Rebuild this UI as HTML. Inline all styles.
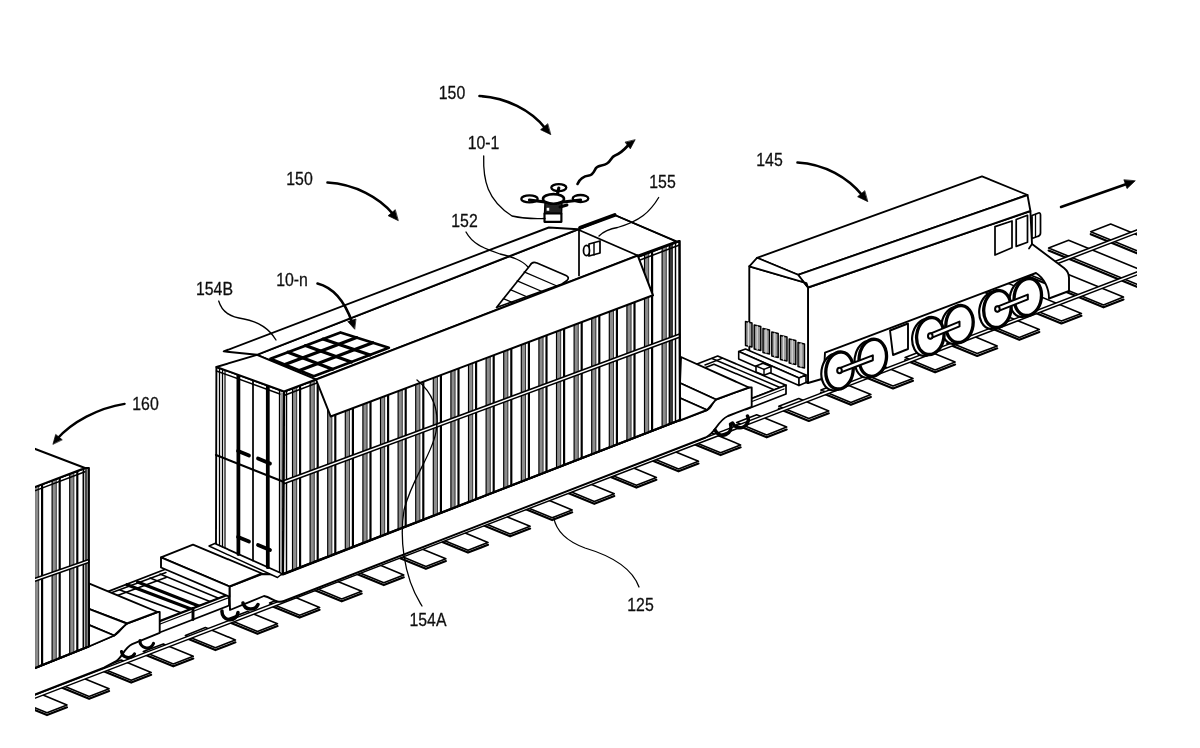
<!DOCTYPE html>
<html><head><meta charset="utf-8"><title>Figure</title>
<style>html,body{margin:0;padding:0;background:#fff}svg{display:block}</style></head>
<body>
<svg width="1200" height="748" viewBox="0 0 1200 748" stroke-linejoin="round" stroke-linecap="round">
<rect width="1200" height="748" fill="#fff"/>
<defs><clipPath id="frame"><rect x="35" y="0" width="1102" height="748"/></clipPath>
<filter id="soft" x="0" y="0" width="1200" height="748" filterUnits="userSpaceOnUse"><feGaussianBlur stdDeviation="0.45"/></filter></defs>
<g clip-path="url(#frame)" filter="url(#soft)">
<g id="track">
<polygon points="-25.1,716.7 4.9,729.0 24.9,721.2 -5.1,708.9" fill="#fff" stroke="#000" stroke-width="1.59" />
<polyline points="-25.1,719.1 4.9,731.4 24.9,723.6" fill="none" stroke="#000" stroke-width="2.17" />
<polygon points="17.0,700.4 47.0,712.7 67.0,704.9 37.0,692.6" fill="#fff" stroke="#000" stroke-width="1.59" />
<polyline points="17.0,702.8 47.0,715.1 67.0,707.3" fill="none" stroke="#000" stroke-width="2.17" />
<polygon points="59.1,684.1 89.1,696.4 109.1,688.7 79.1,676.4" fill="#fff" stroke="#000" stroke-width="1.59" />
<polyline points="59.1,686.5 89.1,698.8 109.1,691.1" fill="none" stroke="#000" stroke-width="2.17" />
<polygon points="101.2,667.9 131.2,680.2 151.2,672.4 121.2,660.1" fill="#fff" stroke="#000" stroke-width="1.59" />
<polyline points="101.2,670.3 131.2,682.6 151.2,674.8" fill="none" stroke="#000" stroke-width="2.17" />
<polygon points="143.3,651.6 173.3,663.9 193.3,656.2 163.3,643.9" fill="#fff" stroke="#000" stroke-width="1.59" />
<polyline points="143.3,654.0 173.3,666.3 193.3,658.6" fill="none" stroke="#000" stroke-width="2.17" />
<polygon points="185.4,635.4 215.4,647.7 235.4,639.9 205.4,627.6" fill="#fff" stroke="#000" stroke-width="1.59" />
<polyline points="185.4,637.8 215.4,650.1 235.4,642.3" fill="none" stroke="#000" stroke-width="2.17" />
<polygon points="227.5,619.1 257.5,631.4 277.5,623.7 247.5,611.4" fill="#fff" stroke="#000" stroke-width="1.59" />
<polyline points="227.5,621.5 257.5,633.8 277.5,626.1" fill="none" stroke="#000" stroke-width="2.17" />
<polygon points="269.6,602.9 299.6,615.2 319.6,607.4 289.6,595.1" fill="#fff" stroke="#000" stroke-width="1.59" />
<polyline points="269.6,605.3 299.6,617.6 319.6,609.8" fill="none" stroke="#000" stroke-width="2.17" />
<polygon points="311.7,586.6 341.7,598.9 361.7,591.2 331.7,578.9" fill="#fff" stroke="#000" stroke-width="1.59" />
<polyline points="311.7,589.0 341.7,601.3 361.7,593.6" fill="none" stroke="#000" stroke-width="2.17" />
<polygon points="353.8,570.4 383.8,582.7 403.8,574.9 373.8,562.6" fill="#fff" stroke="#000" stroke-width="1.59" />
<polyline points="353.8,572.8 383.8,585.1 403.8,577.3" fill="none" stroke="#000" stroke-width="2.17" />
<polygon points="395.9,554.1 425.9,566.4 445.9,558.7 415.9,546.4" fill="#fff" stroke="#000" stroke-width="1.59" />
<polyline points="395.9,556.5 425.9,568.8 445.9,561.1" fill="none" stroke="#000" stroke-width="2.17" />
<polygon points="438.0,537.9 468.0,550.2 488.0,542.4 458.0,530.1" fill="#fff" stroke="#000" stroke-width="1.59" />
<polyline points="438.0,540.3 468.0,552.6 488.0,544.8" fill="none" stroke="#000" stroke-width="2.17" />
<polygon points="480.1,521.6 510.1,533.9 530.1,526.2 500.1,513.9" fill="#fff" stroke="#000" stroke-width="1.59" />
<polyline points="480.1,524.0 510.1,536.3 530.1,528.6" fill="none" stroke="#000" stroke-width="2.17" />
<polygon points="522.2,505.4 552.2,517.7 572.2,509.9 542.2,497.6" fill="#fff" stroke="#000" stroke-width="1.59" />
<polyline points="522.2,507.8 552.2,520.1 572.2,512.3" fill="none" stroke="#000" stroke-width="2.17" />
<polygon points="564.3,489.1 594.3,501.4 614.3,493.7 584.3,481.4" fill="#fff" stroke="#000" stroke-width="1.59" />
<polyline points="564.3,491.5 594.3,503.8 614.3,496.1" fill="none" stroke="#000" stroke-width="2.17" />
<polygon points="606.4,472.9 636.4,485.2 656.4,477.4 626.4,465.1" fill="#fff" stroke="#000" stroke-width="1.59" />
<polyline points="606.4,475.3 636.4,487.6 656.4,479.8" fill="none" stroke="#000" stroke-width="2.17" />
<polygon points="648.5,456.6 678.5,468.9 698.5,461.2 668.5,448.9" fill="#fff" stroke="#000" stroke-width="1.59" />
<polyline points="648.5,459.0 678.5,471.3 698.5,463.6" fill="none" stroke="#000" stroke-width="2.17" />
<polygon points="690.6,440.4 720.6,452.7 740.6,444.9 710.6,432.6" fill="#fff" stroke="#000" stroke-width="1.59" />
<polyline points="690.6,442.8 720.6,455.1 740.6,447.3" fill="none" stroke="#000" stroke-width="2.17" />
<polygon points="736.7,422.6 766.7,434.9 786.7,427.1 756.7,414.8" fill="#fff" stroke="#000" stroke-width="1.59" />
<polyline points="736.7,425.0 766.7,437.3 786.7,429.5" fill="none" stroke="#000" stroke-width="2.17" />
<polygon points="778.8,406.3 808.8,418.6 828.8,410.9 798.8,398.6" fill="#fff" stroke="#000" stroke-width="1.59" />
<polyline points="778.8,408.7 808.8,421.0 828.8,413.3" fill="none" stroke="#000" stroke-width="2.17" />
<polygon points="820.9,390.1 850.9,402.4 870.9,394.6 840.9,382.3" fill="#fff" stroke="#000" stroke-width="1.59" />
<polyline points="820.9,392.5 850.9,404.8 870.9,397.0" fill="none" stroke="#000" stroke-width="2.17" />
<polygon points="863.0,373.8 893.0,386.1 913.0,378.4 883.0,366.1" fill="#fff" stroke="#000" stroke-width="1.59" />
<polyline points="863.0,376.2 893.0,388.5 913.0,380.8" fill="none" stroke="#000" stroke-width="2.17" />
<polygon points="905.1,357.6 935.1,369.9 955.1,362.1 925.1,349.8" fill="#fff" stroke="#000" stroke-width="1.59" />
<polyline points="905.1,360.0 935.1,372.3 955.1,364.5" fill="none" stroke="#000" stroke-width="2.17" />
<polygon points="947.2,341.3 977.2,353.6 997.2,345.9 967.2,333.6" fill="#fff" stroke="#000" stroke-width="1.59" />
<polyline points="947.2,343.7 977.2,356.0 997.2,348.3" fill="none" stroke="#000" stroke-width="2.17" />
<polygon points="989.3,325.1 1019.3,337.4 1039.3,329.6 1009.3,317.3" fill="#fff" stroke="#000" stroke-width="1.59" />
<polyline points="989.3,327.5 1019.3,339.8 1039.3,332.0" fill="none" stroke="#000" stroke-width="2.17" />
<polygon points="963.4,281.0 1061.4,321.1 1081.4,313.4 983.4,273.2" fill="#fff" stroke="#000" stroke-width="1.59" />
<polyline points="963.4,283.4 1061.4,323.5 1081.4,315.8" fill="none" stroke="#000" stroke-width="2.17" />
<polygon points="1005.5,264.7 1103.5,304.9 1123.5,297.1 1025.5,257.0" fill="#fff" stroke="#000" stroke-width="1.59" />
<polyline points="1005.5,267.1 1103.5,307.3 1123.5,299.5" fill="none" stroke="#000" stroke-width="2.17" />
<polygon points="1048.6,248.1 1146.6,288.3 1166.6,280.5 1068.6,240.3" fill="#fff" stroke="#000" stroke-width="1.59" />
<polyline points="1048.6,250.5 1146.6,290.7 1166.6,282.9" fill="none" stroke="#000" stroke-width="2.17" />
<polygon points="1090.7,231.8 1188.7,272.0 1208.7,264.2 1110.7,224.1" fill="#fff" stroke="#000" stroke-width="1.59" />
<polyline points="1090.7,234.2 1188.7,274.4 1208.7,266.6" fill="none" stroke="#000" stroke-width="2.17" />
<polygon points="1052.0,262.5 1140.0,228.7 1140.0,231.9 1052.0,265.7" fill="#fff" stroke="#000" stroke-width="1.45" />
<polygon points="30.0,696.9 1140.0,270.7 1140.0,273.9 30.0,700.1" fill="#fff" stroke="#000" stroke-width="1.45" />
</g>
<g id="coupL">
<polygon points="100.0,594.6 166.0,569.0 229.0,594.0 150.0,624.6" fill="#fff" stroke="#000" stroke-width="1.74" />
<polyline points="104.0,595.5 166.0,572.5" fill="none" stroke="#000" stroke-width="1.45" />
<polyline points="112.0,597.5 166.0,577.5" fill="none" stroke="#000" stroke-width="1.74" />
<polyline points="127.0,584.7 193.7,610.0" fill="none" stroke="#000" stroke-width="3.19" />
<polyline points="137.6,582.0 200.0,606.5" fill="none" stroke="#000" stroke-width="3.19" />
<polyline points="120.0,590.0 187.0,615.0" fill="none" stroke="#000" stroke-width="1.74" />
<polyline points="150.0,578.0 210.0,601.5" fill="none" stroke="#000" stroke-width="1.45" />
<polyline points="160.0,574.0 218.0,598.0" fill="none" stroke="#000" stroke-width="1.45" />
<polygon points="150.0,625.3 229.0,594.5 229.0,605.5 150.0,636.3" fill="#fff" stroke="#000" stroke-width="1.74" />
<polyline points="155.0,626.0 229.0,597.5" fill="none" stroke="#000" stroke-width="1.3" />
<polyline points="193.0,608.5 193.0,619.5" fill="none" stroke="#000" stroke-width="2.9" />
</g>
<g id="car160">
<path d="M30,670 L87.5,646.9 L114.2,635.5 C120,633 122,626 126.9,623.5 L157.6,612 L159.7,612 L159.7,632.8 L132.2,644.2 C124,648 122,658 116.2,661 L104,667.6 L30,696.5 Z" fill="#fff" stroke="#000" stroke-width="1.89" />
<polygon points="88.8,583.4 157.6,612.0 126.9,623.5 88.8,608.8" fill="#fff" stroke="#000" stroke-width="1.89" />
<polygon points="88.8,608.8 126.9,623.5 114.2,635.5 88.8,624.8" fill="#fff" stroke="#000" stroke-width="1.89" />
<polygon points="88.8,624.8 114.2,635.5 88.8,646.5" fill="#fff" stroke="#000" stroke-width="1.89" />
<path d="M140,640.5 A7,7 0 0 0 153.5,643.5" fill="none" stroke="#000" stroke-width="3.19" />
<path d="M121.5,651.5 A7,7 0 0 0 134.5,654" fill="none" stroke="#000" stroke-width="3.19" />
<polygon points="30.0,488.9 85.0,468.0 88.7,468.0 88.7,646.5 30.0,670.0" fill="#fff" stroke="#000" stroke-width="1.89" />
<clipPath id="c1"><polygon points="30.0,488.9 85.0,468.0 88.7,468.0 88.7,646.5 30.0,670.0"/></clipPath>
<g clip-path="url(#c1)">
<rect x="34.5" y="466.0" width="4.2" height="206.0" fill="#8c8c8c"/>
<polyline points="34.5,466.0 34.5,672.0" fill="none" stroke="#000" stroke-width="1.16" />
<polyline points="38.7,466.0 38.7,672.0" fill="none" stroke="#000" stroke-width="0.72" />
<polyline points="42.1,466.0 42.1,672.0" fill="none" stroke="#000" stroke-width="2.17" />
<rect x="52.1" y="466.0" width="4.2" height="206.0" fill="#8c8c8c"/>
<polyline points="52.1,466.0 52.1,672.0" fill="none" stroke="#000" stroke-width="1.16" />
<polyline points="56.3,466.0 56.3,672.0" fill="none" stroke="#000" stroke-width="0.72" />
<polyline points="59.7,466.0 59.7,672.0" fill="none" stroke="#000" stroke-width="2.17" />
<rect x="69.7" y="466.0" width="4.2" height="206.0" fill="#8c8c8c"/>
<polyline points="69.7,466.0 69.7,672.0" fill="none" stroke="#000" stroke-width="1.16" />
<polyline points="73.9,466.0 73.9,672.0" fill="none" stroke="#000" stroke-width="0.72" />
<polyline points="77.3,466.0 77.3,672.0" fill="none" stroke="#000" stroke-width="2.17" />
</g>
<polyline points="83.4,468.0 83.4,648.0" fill="none" stroke="#000" stroke-width="1.74" />
<polyline points="86.0,468.0 86.0,647.0" fill="none" stroke="#000" stroke-width="1.45" />
<polygon points="30.0,488.9 85.0,468.0 88.7,468.0 88.7,646.5 30.0,670.0" fill="none" stroke="#000" stroke-width="2.03" />
<polyline points="30.0,492.6 85.0,471.7" fill="none" stroke="#000" stroke-width="1.45" />
<polygon points="30.0,580.0 88.7,559.5 88.7,562.5 30.0,583.0" fill="#fff" stroke="#000" stroke-width="1.45" />
<polygon points="30.0,447.0 85.0,468.0 30.0,488.9" fill="#fff" stroke="#000" stroke-width="1.89" />
</g>
<g id="coupR">
<polygon points="677.7,371.5 717.7,356.0 786.0,385.2 746.0,400.7" fill="#fff" stroke="#000" stroke-width="1.74" />
<polygon points="690.0,373.5 714.0,364.2 774.0,389.8 750.0,399.1" fill="#fff" stroke="#000" stroke-width="1.59" />
<polyline points="705.0,365.0 722.0,358.3" fill="none" stroke="#000" stroke-width="1.45" />
<polyline points="712.0,358.5 780.0,387.5" fill="none" stroke="#000" stroke-width="1.45" />
<polygon points="746.0,400.7 786.0,385.2 786.0,394.0 746.0,409.5" fill="#fff" stroke="#000" stroke-width="1.74" />
<polyline points="752.0,401.5 784.0,389.0" fill="none" stroke="#000" stroke-width="1.3" />
</g>
<g id="car150">
<path d="M229.5,586.5 L262,574 L283,574.5 L680,420 L707,410 C712,408 712,402 716,399.5 L749,387.5 L751.7,387.5 L751.7,406.8 L728,416 C717,421 716,433 705.6,437.5 L284,601 C276,604 272,597.5 264,596 L230,610 Z" fill="#fff" stroke="#000" stroke-width="1.89" />
<path d="M222,611 A8,8 0 0 0 238,612.5" fill="none" stroke="#000" stroke-width="3.48" />
<path d="M243,603 A8,8 0 0 0 258,604.5" fill="none" stroke="#000" stroke-width="3.48" />
<path d="M715,430 A8,8 0 0 0 730.5,424" fill="none" stroke="#000" stroke-width="3.48" />
<path d="M732.5,423 A8,8 0 0 0 747.5,416" fill="none" stroke="#000" stroke-width="3.48" />
<polygon points="161.0,557.4 193.0,544.6 262.0,573.5 229.5,586.5" fill="#fff" stroke="#000" stroke-width="1.89" />
<polygon points="161.0,557.4 229.5,586.5 229.5,596.8 161.0,567.5" fill="#fff" stroke="#000" stroke-width="1.89" />
<polygon points="209.0,546.0 216.0,543.0 283.0,573.0 277.5,577.5" fill="#fff" stroke="#000" stroke-width="1.45" />
<polygon points="681.0,357.0 749.0,387.5 716.0,399.5 680.0,383.0" fill="#fff" stroke="#000" stroke-width="1.89" />
<polygon points="680.0,383.0 716.0,399.5 707.0,410.0 680.0,398.0" fill="#fff" stroke="#000" stroke-width="1.89" />
<polygon points="680.0,398.0 707.0,410.0 680.0,420.5" fill="#fff" stroke="#000" stroke-width="1.89" />
</g>
<g id="cont150">
<polygon points="216.4,367.0 284.0,391.5 283.0,574.0 216.0,544.0" fill="#fff" stroke="#000" stroke-width="1.89" />
<polyline points="219.5,368.1 219.5,545.6" fill="none" stroke="#000" stroke-width="1.3" />
<polyline points="222.5,369.2 222.5,546.9" fill="none" stroke="#000" stroke-width="1.3" />
<polyline points="225.0,370.1 225.0,548.0" fill="none" stroke="#000" stroke-width="1.16" />
<polyline points="238.4,375.0 238.4,554.0" fill="none" stroke="#000" stroke-width="3.77" />
<polyline points="253.0,380.3 253.0,560.6" fill="none" stroke="#000" stroke-width="1.74" />
<polyline points="267.8,385.6 267.8,567.2" fill="none" stroke="#000" stroke-width="3.77" />
<polyline points="279.5,389.9 279.5,572.4" fill="none" stroke="#000" stroke-width="1.3" />
<polyline points="216.4,371.0 284.0,395.5" fill="none" stroke="#000" stroke-width="1.45" />
<polygon points="280.3,392 283,393 283,573 280.3,572" fill="#999"/>
<polyline points="216.0,455.0 284.0,482.0" fill="none" stroke="#000" stroke-width="2.17" />
<polyline points="238.0,451.0 249.0,455.5" fill="none" stroke="#000" stroke-width="3.77" />
<polyline points="258.0,458.5 270.0,463.5" fill="none" stroke="#000" stroke-width="3.77" />
<polyline points="238.0,537.0 249.0,541.5" fill="none" stroke="#000" stroke-width="3.77" />
<polyline points="258.0,545.0 270.0,550.0" fill="none" stroke="#000" stroke-width="3.77" />
<polygon points="284.0,391.5 679.5,241.0 680.0,420.0 283.0,574.0" fill="#fff" stroke="#000" stroke-width="1.89" />
<clipPath id="c2"><polygon points="284.0,391.5 679.5,241.0 680.0,420.0 283.0,574.0"/></clipPath>
<g clip-path="url(#c2)">
<rect x="292.5" y="239.0" width="4.2" height="337.0" fill="#8c8c8c"/>
<polyline points="292.5,239.0 292.5,576.0" fill="none" stroke="#000" stroke-width="1.16" />
<polyline points="296.7,239.0 296.7,576.0" fill="none" stroke="#000" stroke-width="0.72" />
<polyline points="300.1,239.0 300.1,576.0" fill="none" stroke="#000" stroke-width="2.17" />
<rect x="310.1" y="239.0" width="4.2" height="337.0" fill="#8c8c8c"/>
<polyline points="310.1,239.0 310.1,576.0" fill="none" stroke="#000" stroke-width="1.16" />
<polyline points="314.3,239.0 314.3,576.0" fill="none" stroke="#000" stroke-width="0.72" />
<polyline points="317.7,239.0 317.7,576.0" fill="none" stroke="#000" stroke-width="2.17" />
<rect x="327.7" y="239.0" width="4.2" height="337.0" fill="#8c8c8c"/>
<polyline points="327.7,239.0 327.7,576.0" fill="none" stroke="#000" stroke-width="1.16" />
<polyline points="331.9,239.0 331.9,576.0" fill="none" stroke="#000" stroke-width="0.72" />
<polyline points="335.3,239.0 335.3,576.0" fill="none" stroke="#000" stroke-width="2.17" />
<rect x="345.3" y="239.0" width="4.2" height="337.0" fill="#8c8c8c"/>
<polyline points="345.3,239.0 345.3,576.0" fill="none" stroke="#000" stroke-width="1.16" />
<polyline points="349.5,239.0 349.5,576.0" fill="none" stroke="#000" stroke-width="0.72" />
<polyline points="352.9,239.0 352.9,576.0" fill="none" stroke="#000" stroke-width="2.17" />
<rect x="362.9" y="239.0" width="4.2" height="337.0" fill="#8c8c8c"/>
<polyline points="362.9,239.0 362.9,576.0" fill="none" stroke="#000" stroke-width="1.16" />
<polyline points="367.1,239.0 367.1,576.0" fill="none" stroke="#000" stroke-width="0.72" />
<polyline points="370.5,239.0 370.5,576.0" fill="none" stroke="#000" stroke-width="2.17" />
<rect x="380.5" y="239.0" width="4.2" height="337.0" fill="#8c8c8c"/>
<polyline points="380.5,239.0 380.5,576.0" fill="none" stroke="#000" stroke-width="1.16" />
<polyline points="384.7,239.0 384.7,576.0" fill="none" stroke="#000" stroke-width="0.72" />
<polyline points="388.1,239.0 388.1,576.0" fill="none" stroke="#000" stroke-width="2.17" />
<rect x="398.1" y="239.0" width="4.2" height="337.0" fill="#8c8c8c"/>
<polyline points="398.1,239.0 398.1,576.0" fill="none" stroke="#000" stroke-width="1.16" />
<polyline points="402.3,239.0 402.3,576.0" fill="none" stroke="#000" stroke-width="0.72" />
<polyline points="405.7,239.0 405.7,576.0" fill="none" stroke="#000" stroke-width="2.17" />
<rect x="415.7" y="239.0" width="4.2" height="337.0" fill="#8c8c8c"/>
<polyline points="415.7,239.0 415.7,576.0" fill="none" stroke="#000" stroke-width="1.16" />
<polyline points="419.9,239.0 419.9,576.0" fill="none" stroke="#000" stroke-width="0.72" />
<polyline points="423.3,239.0 423.3,576.0" fill="none" stroke="#000" stroke-width="2.17" />
<rect x="433.3" y="239.0" width="4.2" height="337.0" fill="#8c8c8c"/>
<polyline points="433.3,239.0 433.3,576.0" fill="none" stroke="#000" stroke-width="1.16" />
<polyline points="437.5,239.0 437.5,576.0" fill="none" stroke="#000" stroke-width="0.72" />
<polyline points="440.9,239.0 440.9,576.0" fill="none" stroke="#000" stroke-width="2.17" />
<rect x="450.9" y="239.0" width="4.2" height="337.0" fill="#8c8c8c"/>
<polyline points="450.9,239.0 450.9,576.0" fill="none" stroke="#000" stroke-width="1.16" />
<polyline points="455.1,239.0 455.1,576.0" fill="none" stroke="#000" stroke-width="0.72" />
<polyline points="458.5,239.0 458.5,576.0" fill="none" stroke="#000" stroke-width="2.17" />
<rect x="468.5" y="239.0" width="4.2" height="337.0" fill="#8c8c8c"/>
<polyline points="468.5,239.0 468.5,576.0" fill="none" stroke="#000" stroke-width="1.16" />
<polyline points="472.7,239.0 472.7,576.0" fill="none" stroke="#000" stroke-width="0.72" />
<polyline points="476.1,239.0 476.1,576.0" fill="none" stroke="#000" stroke-width="2.17" />
<rect x="486.1" y="239.0" width="4.2" height="337.0" fill="#8c8c8c"/>
<polyline points="486.1,239.0 486.1,576.0" fill="none" stroke="#000" stroke-width="1.16" />
<polyline points="490.3,239.0 490.3,576.0" fill="none" stroke="#000" stroke-width="0.72" />
<polyline points="493.7,239.0 493.7,576.0" fill="none" stroke="#000" stroke-width="2.17" />
<rect x="503.7" y="239.0" width="4.2" height="337.0" fill="#8c8c8c"/>
<polyline points="503.7,239.0 503.7,576.0" fill="none" stroke="#000" stroke-width="1.16" />
<polyline points="507.9,239.0 507.9,576.0" fill="none" stroke="#000" stroke-width="0.72" />
<polyline points="511.3,239.0 511.3,576.0" fill="none" stroke="#000" stroke-width="2.17" />
<rect x="521.3" y="239.0" width="4.2" height="337.0" fill="#8c8c8c"/>
<polyline points="521.3,239.0 521.3,576.0" fill="none" stroke="#000" stroke-width="1.16" />
<polyline points="525.5,239.0 525.5,576.0" fill="none" stroke="#000" stroke-width="0.72" />
<polyline points="528.9,239.0 528.9,576.0" fill="none" stroke="#000" stroke-width="2.17" />
<rect x="538.9" y="239.0" width="4.2" height="337.0" fill="#8c8c8c"/>
<polyline points="538.9,239.0 538.9,576.0" fill="none" stroke="#000" stroke-width="1.16" />
<polyline points="543.1,239.0 543.1,576.0" fill="none" stroke="#000" stroke-width="0.72" />
<polyline points="546.5,239.0 546.5,576.0" fill="none" stroke="#000" stroke-width="2.17" />
<rect x="556.5" y="239.0" width="4.2" height="337.0" fill="#8c8c8c"/>
<polyline points="556.5,239.0 556.5,576.0" fill="none" stroke="#000" stroke-width="1.16" />
<polyline points="560.7,239.0 560.7,576.0" fill="none" stroke="#000" stroke-width="0.72" />
<polyline points="564.1,239.0 564.1,576.0" fill="none" stroke="#000" stroke-width="2.17" />
<rect x="574.1" y="239.0" width="4.2" height="337.0" fill="#8c8c8c"/>
<polyline points="574.1,239.0 574.1,576.0" fill="none" stroke="#000" stroke-width="1.16" />
<polyline points="578.3,239.0 578.3,576.0" fill="none" stroke="#000" stroke-width="0.72" />
<polyline points="581.7,239.0 581.7,576.0" fill="none" stroke="#000" stroke-width="2.17" />
<rect x="591.7" y="239.0" width="4.2" height="337.0" fill="#8c8c8c"/>
<polyline points="591.7,239.0 591.7,576.0" fill="none" stroke="#000" stroke-width="1.16" />
<polyline points="595.9,239.0 595.9,576.0" fill="none" stroke="#000" stroke-width="0.72" />
<polyline points="599.3,239.0 599.3,576.0" fill="none" stroke="#000" stroke-width="2.17" />
<rect x="609.3" y="239.0" width="4.2" height="337.0" fill="#8c8c8c"/>
<polyline points="609.3,239.0 609.3,576.0" fill="none" stroke="#000" stroke-width="1.16" />
<polyline points="613.5,239.0 613.5,576.0" fill="none" stroke="#000" stroke-width="0.72" />
<polyline points="616.9,239.0 616.9,576.0" fill="none" stroke="#000" stroke-width="2.17" />
<rect x="626.9" y="239.0" width="4.2" height="337.0" fill="#8c8c8c"/>
<polyline points="626.9,239.0 626.9,576.0" fill="none" stroke="#000" stroke-width="1.16" />
<polyline points="631.1,239.0 631.1,576.0" fill="none" stroke="#000" stroke-width="0.72" />
<polyline points="634.5,239.0 634.5,576.0" fill="none" stroke="#000" stroke-width="2.17" />
<rect x="644.5" y="239.0" width="4.2" height="337.0" fill="#8c8c8c"/>
<polyline points="644.5,239.0 644.5,576.0" fill="none" stroke="#000" stroke-width="1.16" />
<polyline points="648.7,239.0 648.7,576.0" fill="none" stroke="#000" stroke-width="0.72" />
<polyline points="652.1,239.0 652.1,576.0" fill="none" stroke="#000" stroke-width="2.17" />
<rect x="662.1" y="239.0" width="4.2" height="337.0" fill="#8c8c8c"/>
<polyline points="662.1,239.0 662.1,576.0" fill="none" stroke="#000" stroke-width="1.16" />
<polyline points="666.3,239.0 666.3,576.0" fill="none" stroke="#000" stroke-width="0.72" />
<polyline points="669.7,239.0 669.7,576.0" fill="none" stroke="#000" stroke-width="2.17" />
</g>
<polyline points="286.5,391.0 286.5,573.0" fill="none" stroke="#000" stroke-width="1.45" />
<polyline points="672.0,244.0 672.0,423.0" fill="none" stroke="#000" stroke-width="1.59" />
<polyline points="675.5,243.0 675.5,422.0" fill="none" stroke="#000" stroke-width="1.45" />
<polyline points="284.0,395.5 679.5,245.0" fill="none" stroke="#000" stroke-width="1.45" />
<polygon points="284.0,391.5 679.5,241.0 680.0,420.0 283.0,574.0" fill="none" stroke="#000" stroke-width="2.17" />
<polygon points="284.0,480.5 679.5,334.0 679.5,337.2 284.0,483.7" fill="#fff" stroke="#000" stroke-width="1.59" />
<polygon points="257.0,354.8 579.0,229.3 614.7,215.0 676.0,241.5 637.7,255.5 316.0,379.5" fill="#fff" stroke="#000" stroke-width="1.74" />
<polygon points="216.4,367.0 257.0,354.8 316.0,379.5 284.0,391.5" fill="#fff" stroke="#000" stroke-width="1.89" />
<polygon points="223.7,351.4 548.8,227.5 578.0,229.3 257.0,354.8" fill="#fff" stroke="#000" stroke-width="1.89" />
<polyline points="580.0,227.8 614.7,215.0" fill="none" stroke="#000" stroke-width="3.77" />
<polyline points="614.7,215.0 677.0,241.5" fill="none" stroke="#000" stroke-width="1.81" />
<polyline points="579.0,230.0 579.0,275.5" fill="none" stroke="#000" stroke-width="1.74" />
<polyline points="579.0,230.0 637.7,255.5" fill="none" stroke="#000" stroke-width="1.89" />
<polygon points="589.0,244.0 600.0,241.0 600.0,253.0 589.0,256.0" fill="#fff" stroke="#000" stroke-width="1.74" />
<ellipse cx="586.5" cy="250.5" rx="3.0" ry="5.2" transform="rotate(0.0 586.5 250.5)" fill="#fff" stroke="#000" stroke-width="1.74"/>
<polyline points="594.0,243.0 594.0,255.0" fill="none" stroke="#000" stroke-width="1.45" />
<path d="M496.5,307.5 L530,265.5 Q532,261 537,263 L566,275.5 Q570,277.5 567,280.5 L562,284 Z" fill="#fff" stroke="#000" stroke-width="1.74" />
<polyline points="524.1,271.9 556.9,286.0" fill="none" stroke="#000" stroke-width="1.3" />
<polyline points="517.2,280.8 546.7,293.5" fill="none" stroke="#000" stroke-width="1.3" />
<polyline points="510.3,289.7 536.6,301.0" fill="none" stroke="#000" stroke-width="1.3" />
<polyline points="503.4,298.6 526.4,308.5" fill="none" stroke="#000" stroke-width="1.3" />
<polygon points="270.5,358.8 340.5,332.5 388.8,347.8 313.8,376.3" fill="#fff" stroke="#000" stroke-width="2.75" />
<polyline points="288.0,352.2 332.6,369.2" fill="none" stroke="#000" stroke-width="3.19" />
<polyline points="305.5,345.6 351.3,362.1" fill="none" stroke="#000" stroke-width="3.19" />
<polyline points="323.0,339.1 370.1,354.9" fill="none" stroke="#000" stroke-width="3.19" />
<polyline points="284.9,364.6 356.6,337.6" fill="none" stroke="#000" stroke-width="3.19" />
<polyline points="299.4,370.5 372.7,342.7" fill="none" stroke="#000" stroke-width="3.19" />
<polygon points="316.0,379.5 637.7,255.5 653.0,295.3 330.7,416.5" fill="#fff" stroke="#000" stroke-width="2.03" />
</g>
<g id="loco">
<path d="M808,287.5 L1030.4,211 L1032,244 L1064,268 Q1069,272 1069,278 L1069,291 L1049,298.5 C1049,288 1044,278 1036,273 L825,352.7 L823.5,378.5 L808,383 Z" fill="#fff" stroke="#000" stroke-width="1.89" />
<polygon points="749.3,266.3 806.5,283.0 808.0,287.5 808.0,383.0 800.0,380.0 749.3,352.0" fill="#fff" stroke="#000" stroke-width="1.89" />
<polygon points="757.0,257.8 982.0,176.4 1027.5,195.0 798.0,274.8" fill="#fff" stroke="#000" stroke-width="1.89" />
<polygon points="798.0,274.8 1027.5,195.0 1030.4,211.0 808.0,287.5" fill="#fff" stroke="#000" stroke-width="1.89" />
<polygon points="749.3,266.3 757.0,257.8 798.0,274.8 808.0,287.5 806.5,283.0" fill="#fff" stroke="#000" stroke-width="1.74" />
<polygon points="995.0,226.6 1012.0,221.0 1012.0,247.8 995.0,255.0" fill="#fff" stroke="#000" stroke-width="1.74" />
<polygon points="1016.2,219.5 1027.5,215.3 1027.5,242.2 1016.2,246.4" fill="#fff" stroke="#000" stroke-width="1.74" />
<path d="M1032,215.5 L1038.5,213 Q1040.5,212.5 1040.5,215 L1040.5,233 Q1040.5,235.5 1038,236.3 L1032,238.5 Z" fill="#fff" stroke="#000" stroke-width="1.74" />
<polyline points="1035.5,214.5 1035.5,237.0" fill="none" stroke="#000" stroke-width="1.3" />
<polyline points="1029.0,248.5 1032.0,244.0" fill="none" stroke="#000" stroke-width="1.74" />
<polygon points="745.5,321.5 752.0,323.0 752.0,347.0 745.5,345.5" fill="#999" stroke="#000" stroke-width="1.45" />
<polyline points="748.5,322.5 748.5,346.0" fill="none" stroke="#ddd" stroke-width="1.16" />
<polygon points="754.2,325.0 760.8,326.5 760.8,350.5 754.2,349.0" fill="#999" stroke="#000" stroke-width="1.45" />
<polyline points="757.2,326.0 757.2,349.5" fill="none" stroke="#ddd" stroke-width="1.16" />
<polygon points="763.0,328.5 769.5,330.0 769.5,354.0 763.0,352.5" fill="#999" stroke="#000" stroke-width="1.45" />
<polyline points="766.0,329.5 766.0,353.0" fill="none" stroke="#ddd" stroke-width="1.16" />
<polygon points="771.8,332.0 778.2,333.5 778.2,357.5 771.8,356.0" fill="#999" stroke="#000" stroke-width="1.45" />
<polyline points="774.8,333.0 774.8,356.5" fill="none" stroke="#ddd" stroke-width="1.16" />
<polygon points="780.5,335.5 787.0,337.0 787.0,361.0 780.5,359.5" fill="#999" stroke="#000" stroke-width="1.45" />
<polyline points="783.5,336.5 783.5,360.0" fill="none" stroke="#ddd" stroke-width="1.16" />
<polygon points="789.2,339.0 795.8,340.5 795.8,364.5 789.2,363.0" fill="#999" stroke="#000" stroke-width="1.45" />
<polyline points="792.2,340.0 792.2,363.5" fill="none" stroke="#ddd" stroke-width="1.16" />
<polygon points="798.0,342.5 804.5,344.0 804.5,368.0 798.0,366.5" fill="#999" stroke="#000" stroke-width="1.45" />
<polyline points="801.0,343.5 801.0,367.0" fill="none" stroke="#ddd" stroke-width="1.16" />
<polygon points="890.0,330.5 908.0,323.5 908.0,349.0 893.0,355.0" fill="#fff" stroke="#000" stroke-width="1.89" />
<ellipse cx="868.3" cy="359.3" rx="13.6" ry="18.6" transform="rotate(8.0 868.3 359.3)" fill="#fff" stroke="#000" stroke-width="2.17"/>
<ellipse cx="872.8" cy="357.8" rx="13.6" ry="18.6" transform="rotate(8.0 872.8 357.8)" fill="#fff" stroke="#000" stroke-width="3.33"/>
<ellipse cx="835.0" cy="372.0" rx="13.6" ry="18.6" transform="rotate(8.0 835.0 372.0)" fill="#fff" stroke="#000" stroke-width="2.17"/>
<ellipse cx="839.5" cy="370.5" rx="13.6" ry="18.6" transform="rotate(8.0 839.5 370.5)" fill="#fff" stroke="#000" stroke-width="3.33"/>
<polygon points="839.5,368.1 872.8,355.4 872.8,360.2 839.5,372.9" fill="#fff" stroke="#000" stroke-width="2.03" />
<ellipse cx="839.5" cy="370.5" rx="2.3" ry="2.8" transform="rotate(0.0 839.5 370.5)" fill="#fff" stroke="#000" stroke-width="2.03"/>
<ellipse cx="955.0" cy="325.5" rx="13.6" ry="18.6" transform="rotate(8.0 955.0 325.5)" fill="#fff" stroke="#000" stroke-width="2.17"/>
<ellipse cx="959.5" cy="324.0" rx="13.6" ry="18.6" transform="rotate(8.0 959.5 324.0)" fill="#fff" stroke="#000" stroke-width="3.33"/>
<ellipse cx="925.8" cy="337.5" rx="13.6" ry="18.6" transform="rotate(8.0 925.8 337.5)" fill="#fff" stroke="#000" stroke-width="2.17"/>
<ellipse cx="930.3" cy="336.0" rx="13.6" ry="18.6" transform="rotate(8.0 930.3 336.0)" fill="#fff" stroke="#000" stroke-width="3.33"/>
<polygon points="930.3,333.6 959.5,321.6 959.5,326.4 930.3,338.4" fill="#fff" stroke="#000" stroke-width="2.03" />
<ellipse cx="930.3" cy="336.0" rx="2.3" ry="2.8" transform="rotate(0.0 930.3 336.0)" fill="#fff" stroke="#000" stroke-width="2.03"/>
<ellipse cx="1023.3" cy="298.5" rx="13.6" ry="18.6" transform="rotate(8.0 1023.3 298.5)" fill="#fff" stroke="#000" stroke-width="2.17"/>
<ellipse cx="1027.8" cy="297.0" rx="13.6" ry="18.6" transform="rotate(8.0 1027.8 297.0)" fill="#fff" stroke="#000" stroke-width="3.33"/>
<ellipse cx="992.9" cy="310.5" rx="13.6" ry="18.6" transform="rotate(8.0 992.9 310.5)" fill="#fff" stroke="#000" stroke-width="2.17"/>
<ellipse cx="997.4" cy="309.0" rx="13.6" ry="18.6" transform="rotate(8.0 997.4 309.0)" fill="#fff" stroke="#000" stroke-width="3.33"/>
<polygon points="997.4,306.6 1027.8,294.6 1027.8,299.4 997.4,311.4" fill="#fff" stroke="#000" stroke-width="2.03" />
<ellipse cx="997.4" cy="309.0" rx="2.3" ry="2.8" transform="rotate(0.0 997.4 309.0)" fill="#fff" stroke="#000" stroke-width="2.03"/>
</g>
<g id="locoslab">
<polygon points="738.7,351.5 745.5,349.0 806.0,375.0 799.0,378.0" fill="#fff" stroke="#000" stroke-width="1.59" />
<polygon points="738.7,351.5 799.0,378.0 799.0,385.5 738.7,359.0" fill="#fff" stroke="#000" stroke-width="1.59" />
<polygon points="799.0,378.0 806.0,375.0 806.0,382.5 799.0,385.5" fill="#fff" stroke="#000" stroke-width="1.59" />
<polygon points="756.0,366.0 763.0,363.2 771.0,366.5 771.0,372.5 764.0,375.3 756.0,372.0" fill="#fff" stroke="#000" stroke-width="1.59" />
<polyline points="756.0,366.0 764.0,369.3 771.0,366.5" fill="none" stroke="#000" stroke-width="1.45" />
<polyline points="764.0,369.3 764.0,375.3" fill="none" stroke="#000" stroke-width="1.45" />
</g>
<g id="drone">
<ellipse cx="558.8" cy="187.6" rx="7.5" ry="3.5" transform="rotate(0.0 558.8 187.6)" fill="#fff" stroke="#000" stroke-width="2.32"/>
<polyline points="558.8,188.0 557.0,196.0" fill="none" stroke="#000" stroke-width="3.19" />
<ellipse cx="529.5" cy="198.9" rx="8.2" ry="3.5" transform="rotate(0.0 529.5 198.9)" fill="#fff" stroke="#000" stroke-width="2.32"/>
<polyline points="529.5,200.0 545.0,202.0" fill="none" stroke="#000" stroke-width="3.19" />
<ellipse cx="580.5" cy="198.5" rx="7.8" ry="3.5" transform="rotate(0.0 580.5 198.5)" fill="#fff" stroke="#000" stroke-width="2.32"/>
<polyline points="580.5,200.0 563.0,202.0" fill="none" stroke="#000" stroke-width="3.19" />
<polygon points="545.0,203.0 562.0,203.0 561.5,214.0 544.5,214.0" fill="#222" stroke="#000" stroke-width="1.45" />
<polyline points="560.0,207.0 567.0,205.0" fill="none" stroke="#000" stroke-width="2.9" />
<polygon points="546.5,207.5 549.5,207.5 549.5,211.0 546.5,211.0" fill="#fff" stroke="#000" stroke-width="0.43" />
<ellipse cx="553.5" cy="198.9" rx="10.5" ry="4.8" transform="rotate(0.0 553.5 198.9)" fill="#fff" stroke="#000" stroke-width="2.61"/>
<polygon points="544.5,213.5 561.4,213.5 561.4,221.8 544.5,221.8" fill="#fff" stroke="#000" stroke-width="2.17" />
</g>
<g id="annot">
<path d="M479.5,96 C506,97.5 531,110 545.5,128.5" fill="none" stroke="#000" stroke-width="2.61" />
<polygon points="550.5,134.5 540.6,129.7 547.5,123.9" fill="#000" stroke="#000" stroke-width="0.72" />
<path d="M327.5,182.5 C355,184 380,198 393,214" fill="none" stroke="#000" stroke-width="2.61" />
<polygon points="398.0,220.5 388.1,215.7 395.0,209.9" fill="#000" stroke="#000" stroke-width="0.72" />
<path d="M797.5,162.5 C825,164 848,178 862,195" fill="none" stroke="#000" stroke-width="2.61" />
<polygon points="867.5,201.5 857.6,196.7 864.5,190.9" fill="#000" stroke="#000" stroke-width="0.72" />
<path d="M317.5,283.5 C335,288 346,305 352,322" fill="none" stroke="#000" stroke-width="2.61" />
<polygon points="354.5,329.0 347.8,321.6 355.6,319.1" fill="#000" stroke="#000" stroke-width="0.72" />
<path d="M124.6,403.8 C98,408 72,422 57,439" fill="none" stroke="#000" stroke-width="2.32" />
<polygon points="53.0,444.0 55.7,434.4 62.0,439.6" fill="#000" stroke="#000" stroke-width="0.72" />
<path d="M577.5,184 C580,178 585,176 589,175.5 S594,171 596,168 S603,166 607,163.5 S611,157 615,155.5 S623,151 628,145.5" fill="none" stroke="#000" stroke-width="2.61" />
<polygon points="635.0,140.0 630.3,148.8 625.3,142.4" fill="#000" stroke="#000" stroke-width="0.72" />
<polyline points="1061.0,207.0 1128.0,183.5" fill="none" stroke="#000" stroke-width="2.46" />
<polygon points="1135.0,181.0 1127.0,188.6 1124.0,180.1" fill="#000" stroke="#000" stroke-width="0.72" />
<path d="M483.7,156 C483,180 487,200 512,216 C525,219 535,219 545,218.5" fill="none" stroke="#000" stroke-width="1.3" />
<path d="M658.7,197.5 C650,212 640,221 617.5,227.5 C608,229 603,232 599,236" fill="none" stroke="#000" stroke-width="1.3" />
<path d="M466,232 C472,243 482,248 500,254 C512,257 522,260 528,267" fill="none" stroke="#000" stroke-width="1.3" />
<path d="M218.7,301 C222,312 230,317 244,319 C260,322 270,330 276,340" fill="none" stroke="#000" stroke-width="1.3" />
<path d="M417,380 C432,392 440,410 436,432 C432,455 412,478 404,510 C400,535 402,575 422,606" fill="none" stroke="#000" stroke-width="1.3" />
<path d="M553.7,517.5 C556,530 566,541 585,548 C612,556 632,568 639,587" fill="none" stroke="#000" stroke-width="1.3" />
</g>
<g id="labels" font-family="'Liberation Sans', Arial, sans-serif" fill="#111" stroke="#111" stroke-width="0.3">
<text transform="translate(452.0,98.5) scale(0.88,1)" text-anchor="middle" font-size="18">150</text>
<text transform="translate(483.5,148.5) scale(0.88,1)" text-anchor="middle" font-size="18">10-1</text>
<text transform="translate(662.5,187.5) scale(0.88,1)" text-anchor="middle" font-size="18">155</text>
<text transform="translate(769.5,165.5) scale(0.88,1)" text-anchor="middle" font-size="18">145</text>
<text transform="translate(464.5,226.5) scale(0.88,1)" text-anchor="middle" font-size="18">152</text>
<text transform="translate(299.5,184.5) scale(0.88,1)" text-anchor="middle" font-size="18">150</text>
<text transform="translate(292.0,285.5) scale(0.88,1)" text-anchor="middle" font-size="18">10-n</text>
<text transform="translate(214.5,294.5) scale(0.88,1)" text-anchor="middle" font-size="18">154B</text>
<text transform="translate(145.5,409.5) scale(0.88,1)" text-anchor="middle" font-size="18">160</text>
<text transform="translate(428.0,625.5) scale(0.88,1)" text-anchor="middle" font-size="18">154A</text>
<text transform="translate(640.5,610.5) scale(0.88,1)" text-anchor="middle" font-size="18">125</text>
</g>
</g>
</svg>
</body></html>
